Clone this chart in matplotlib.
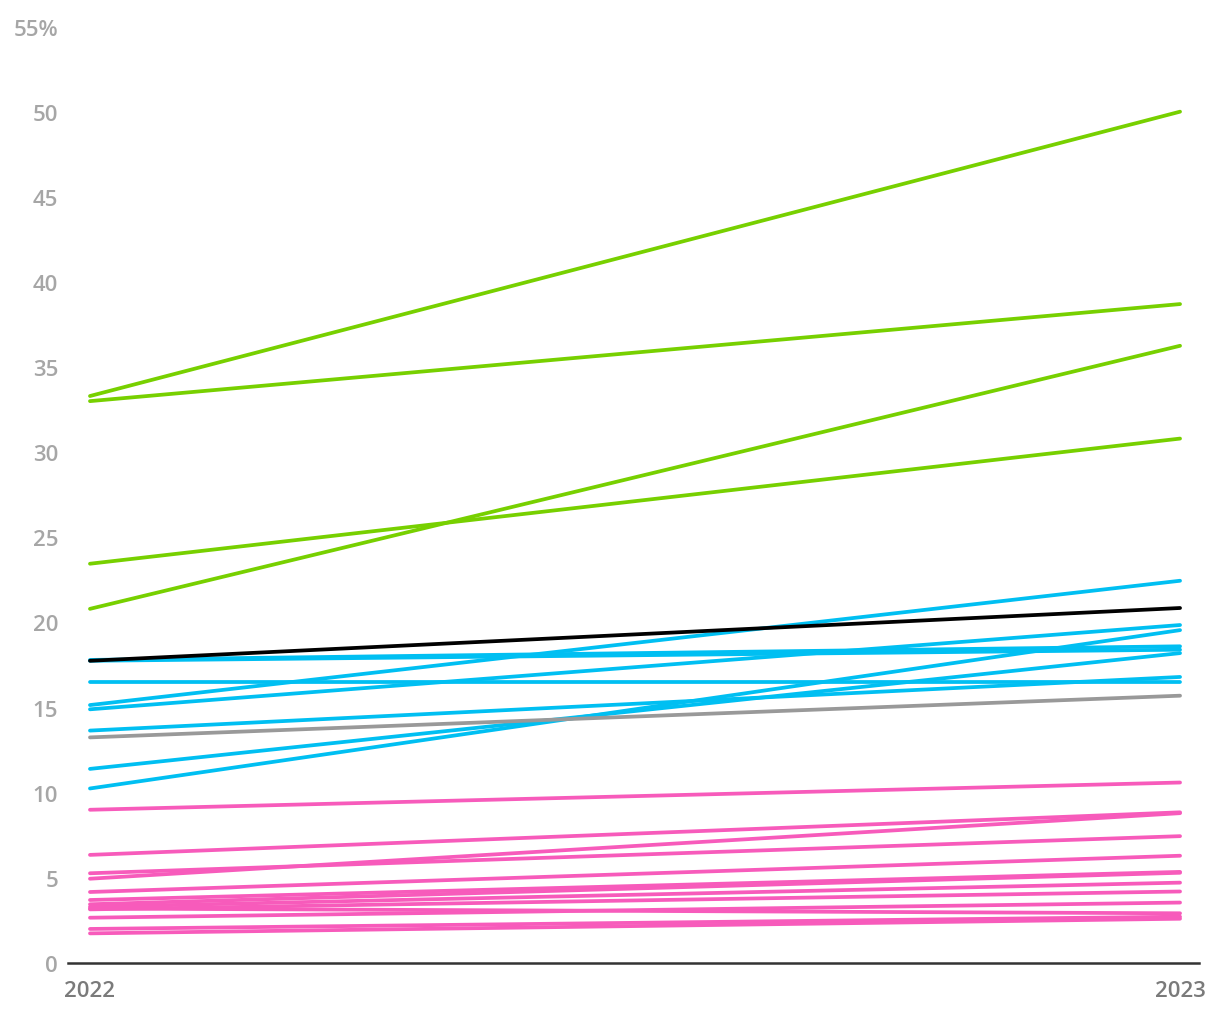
import matplotlib.pyplot as plt

plt.rcParams['font.family'] = ['Open Sans', 'DejaVu Sans']

years = ['2022', '2023']

# share values per line, [2022, 2023]
green_lines = [
    [33.3, 50.0],
    [33.0, 38.7],
    [23.45, 30.8],
    [20.8, 36.25],
]
blue_lines = [
    [17.8, 18.6],
    [17.75, 18.4],
    [16.5, 16.5],
    [15.15, 22.45],
    [14.9, 19.85],
    [13.65, 16.8],
    [11.4, 18.2],
    [10.25, 19.55],
]
pink_lines = [
    [9.0, 10.6],
    [6.35, 8.85],
    [4.95, 8.8],
    [5.27, 7.45],
    [4.17, 6.3],
    [3.7, 5.35],
    [3.45, 5.3],
    [3.3, 4.72],
    [3.15, 4.2],
    [2.66, 3.55],
    [3.2, 2.92],
    [2.0, 2.72],
    [1.74, 2.6],
]
average_line = [17.75, 20.85]
other_line = [13.25, 15.7]

y_ticks = [0, 5, 10, 15, 20, 25, 30, 35, 40, 45, 50, 55]

GREEN = '#77d000'
BLUE = '#00bff2'
PINK = '#f75bbb'

fig = plt.figure(figsize=(12.2, 10.2), dpi=100)
ax = fig.add_axes([0.0557, 0.0549, 0.9271, 0.9181])

x = [0, 1]
lw = 2.7
for vals in pink_lines:
    ax.plot(x, vals, color=PINK, lw=lw, solid_capstyle='round')
for vals in blue_lines:
    ax.plot(x, vals, color=BLUE, lw=lw, solid_capstyle='round')
ax.plot(x, other_line, color='#999999', lw=lw, solid_capstyle='round')
for vals in green_lines:
    ax.plot(x, vals, color=GREEN, lw=lw, solid_capstyle='round')
ax.plot(x, average_line, color='#000000', lw=lw, solid_capstyle='round')

ax.set_xlim(-0.0202, 1.0174)
ax.set_ylim(0, 55)
ax.set_xticks(x)
ax.set_xticklabels(years)
ax.set_yticks(y_ticks)
ax.set_yticklabels([str(t) if t != 55 else '55%' for t in y_ticks])

for s in ['top', 'right', 'left']:
    ax.spines[s].set_visible(False)
ax.spines['bottom'].set_color('#333333')
ax.spines['bottom'].set_linewidth(1.8)

ax.tick_params(axis='both', length=0, labelsize=16)
ax.tick_params(axis='y', pad=7, labelcolor='#a6a6a6')
ax.tick_params(axis='x', pad=12, labelcolor='#7a7a7a')
for lab in ax.get_yticklabels() + ax.get_xticklabels():
    lab.set_fontweight('semibold')

fig.savefig('out.png', dpi=100, facecolor='white')
